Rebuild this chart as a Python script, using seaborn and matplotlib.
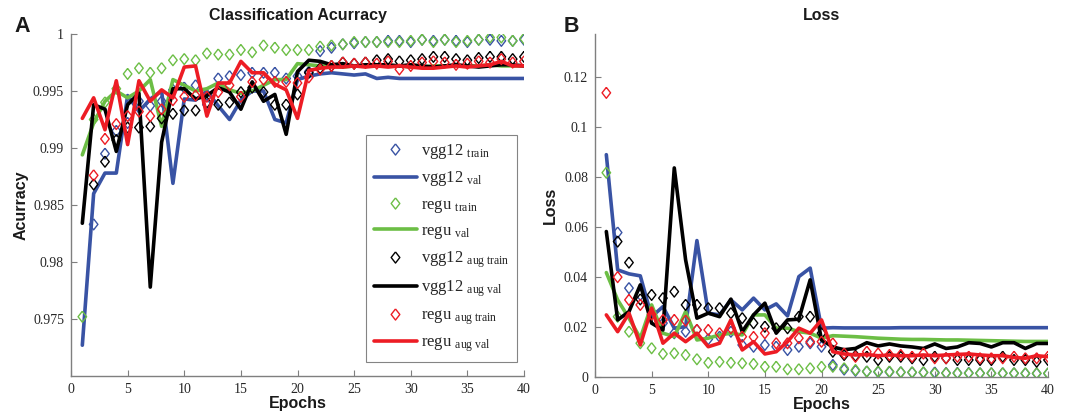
import numpy as np
import pandas as pd
import matplotlib
matplotlib.use("Agg")
import matplotlib.pyplot as plt
from matplotlib.lines import Line2D
from matplotlib.ticker import FuncFormatter
import seaborn as sns

nan = np.nan
epochs = list(range(1, 41))

# ---------------- Accuracy ----------------
vgg_train_acc = [nan, 0.9833, 0.9895, 0.9915, 0.9922, 0.9941, 0.9937, 0.9941, 0.9951, 0.9953,
                 0.9955, 0.9938, 0.9961, 0.9963, 0.9964, 0.9966, 0.9966, 0.9966, 0.9961, 0.9963,
                 0.9967, 0.9985, 0.9988, 0.9991, 0.9992, 0.9993, 0.9993, 0.9994, 0.9994, 0.9993,
                 0.9995, 0.9994, 0.9995, 0.9994, 0.9993, 0.9995, 0.9995, 0.9994, 0.9994, 0.9995]
vgg_val_acc = [0.9727, 0.9860, 0.9878, 0.9878, 0.9946, 0.9932, 0.9943, 0.9950, 0.9869, 0.9943,
               0.9942, 0.9950, 0.9937, 0.9925, 0.9942, 0.9950, 0.9950, 0.9925, 0.9922, 0.9960,
               0.9963, 0.9965, 0.9966, 0.9965, 0.9964, 0.9965, 0.9961, 0.9962, 0.9961, 0.9961,
               0.9961, 0.9961, 0.9961, 0.9961, 0.9961, 0.9961, 0.9961, 0.9961, 0.9961, 0.9961]
regu_train_acc = [0.9752, 0.9925, 0.9940, 0.9952, 0.9965, 0.9970, 0.9966, 0.9970, 0.9977, 0.9978,
                  0.9977, 0.9983, 0.9982, 0.9982, 0.9986, 0.9984, 0.9990, 0.9988, 0.9986, 0.9986,
                  0.9986, 0.9989, 0.9990, 0.9991, 0.9993, 0.9993, 0.9993, 0.9993, 0.9993, 0.9994,
                  0.9995, 0.9993, 0.9995, 0.9993, 0.9994, 0.9995, 0.9997, 0.9997, 0.9994, 0.9996]
regu_val_acc = [0.9894, 0.9922, 0.9941, 0.9950, 0.9944, 0.9950, 0.9960, 0.9919, 0.9960, 0.9955,
                0.9950, 0.9952, 0.9957, 0.9951, 0.9948, 0.9950, 0.9955, 0.9960, 0.9960, 0.9974,
                0.9973, 0.9972, 0.9972, 0.9971, 0.9972, 0.9972, 0.9973, 0.9972, 0.9972, 0.9971,
                0.9971, 0.9972, 0.9972, 0.9972, 0.9972, 0.9972, 0.9973, 0.9972, 0.9972, 0.9972]
vggaug_train_acc = [nan, 0.9868, 0.9888, 0.9907, 0.9918, 0.9918, 0.9919, 0.9926, 0.9930, 0.9933,
                    0.9933, 0.9940, 0.9938, 0.9940, 0.9949, 0.9953, 0.9949, 0.9938, 0.9938, 0.9947,
                    0.9966, 0.9970, 0.9972, 0.9975, 0.9974, 0.9975, 0.9977, 0.9978, 0.9976, 0.9977,
                    0.9978, 0.9980, 0.9980, 0.9978, 0.9977, 0.9979, 0.9980, 0.9980, 0.9978, 0.9980]
vggaug_val_acc = [0.9834, 0.9938, 0.9934, 0.9897, 0.9938, 0.9948, 0.9778, 0.9905, 0.9952, 0.9952,
                  0.9943, 0.9946, 0.9953, 0.9949, 0.9934, 0.9958, 0.9941, 0.9947, 0.9912, 0.9967,
                  0.9977, 0.9976, 0.9973, 0.9974, 0.9972, 0.9973, 0.9973, 0.9973, 0.9972, 0.9973,
                  0.9972, 0.9971, 0.9972, 0.9973, 0.9972, 0.9971, 0.9972, 0.9973, 0.9973, 0.9972]
reguaug_train_acc = [nan, 0.9876, 0.9908, 0.9921, 0.9928, 0.9932, 0.9928, 0.9934, 0.9942, 0.9945,
                     0.9946, 0.9945, 0.9949, 0.9955, 0.9945, 0.9958, 0.9960, 0.9958, 0.9958, 0.9957,
                     0.9962, 0.9969, 0.9972, 0.9975, 0.9974, 0.9975, 0.9974, 0.9976, 0.9969, 0.9972,
                     0.9975, 0.9976, 0.9975, 0.9973, 0.9974, 0.9976, 0.9975, 0.9978, 0.9975, 0.9976]
reguaug_val_acc = [0.9926, 0.9944, 0.9916, 0.9959, 0.9903, 0.9959, 0.9941, 0.9951, 0.9944, 0.9971,
                   0.9972, 0.9928, 0.9957, 0.9957, 0.9976, 0.9966, 0.9966, 0.9956, 0.9951, 0.9926,
                   0.9968, 0.9970, 0.9971, 0.9971, 0.9972, 0.9971, 0.9972, 0.9971, 0.9972, 0.9971,
                   0.9970, 0.9970, 0.9971, 0.9972, 0.9971, 0.9972, 0.9973, 0.9976, 0.9972, 0.9972]

# ---------------- Loss ----------------
vgg_train_loss = [nan, 0.0577, 0.0355, 0.0328, 0.0260, 0.0215, 0.0175, 0.0181, 0.0188, 0.0151,
                  0.0161, 0.0181, 0.0128, 0.0121, 0.0128, 0.0121, 0.0108, 0.0121, 0.0135, 0.0121,
                  0.0048, 0.0030, 0.0025, 0.0022, 0.0020, 0.0020, 0.0019, 0.0018, 0.0018, 0.0018,
                  0.0016, 0.0016, 0.0016, 0.0015, 0.0015, 0.0015, 0.0015, 0.0014, 0.0014, 0.0014]
vgg_val_loss = [0.0888, 0.0428, 0.0412, 0.0404, 0.0241, 0.0281, 0.0195, 0.0201, 0.0545, 0.0255,
                0.0248, 0.0308, 0.0268, 0.0315, 0.0268, 0.0292, 0.0244, 0.0401, 0.0435, 0.0195,
                0.0197, 0.0196, 0.0196, 0.0196, 0.0196, 0.0196, 0.0197, 0.0197, 0.0197, 0.0197,
                0.0197, 0.0197, 0.0197, 0.0197, 0.0197, 0.0197, 0.0197, 0.0197, 0.0197, 0.0197]
regu_train_loss = [0.0816, 0.0241, 0.0181, 0.0135, 0.0115, 0.0092, 0.0095, 0.0088, 0.0071, 0.0057,
                   0.0061, 0.0057, 0.0055, 0.0052, 0.0041, 0.0041, 0.0031, 0.0031, 0.0035, 0.0041,
                   0.0041, 0.0035, 0.0028, 0.0022, 0.0022, 0.0022, 0.0019, 0.0019, 0.0019, 0.0015,
                   0.0015, 0.0015, 0.0015, 0.0015, 0.0015, 0.0015, 0.0015, 0.0015, 0.0015, 0.0015]
regu_val_loss = [0.0417, 0.0308, 0.0235, 0.0155, 0.0288, 0.0175, 0.0161, 0.0261, 0.0148, 0.0155,
                 0.0168, 0.0175, 0.0168, 0.0248, 0.0248, 0.0195, 0.0195, 0.0181, 0.0175, 0.0155,
                 0.0165, 0.0163, 0.0161, 0.0158, 0.0155, 0.0153, 0.0151, 0.0150, 0.0150, 0.0149,
                 0.0148, 0.0148, 0.0147, 0.0146, 0.0145, 0.0144, 0.0143, 0.0142, 0.0142, 0.0142]
vggaug_train_loss = [nan, 0.0541, 0.0457, 0.0310, 0.0328, 0.0315, 0.0341, 0.0288, 0.0288, 0.0275,
                     0.0275, 0.0255, 0.0235, 0.0215, 0.0201, 0.0195, 0.0195, 0.0241, 0.0241, 0.0175,
                     0.0101, 0.0088, 0.0085, 0.0081, 0.0068, 0.0081, 0.0081, 0.0075, 0.0068, 0.0081,
                     0.0075, 0.0068, 0.0068, 0.0068, 0.0068, 0.0081, 0.0068, 0.0068, 0.0061, 0.0068]
vggaug_val_loss = [0.0581, 0.0228, 0.0261, 0.0368, 0.0215, 0.0188, 0.0835, 0.0468, 0.0235, 0.0255,
                   0.0241, 0.0311, 0.0181, 0.0248, 0.0295, 0.0175, 0.0228, 0.0231, 0.0388, 0.0148,
                   0.0120, 0.0109, 0.0114, 0.0137, 0.0124, 0.0132, 0.0124, 0.0120, 0.0114, 0.0132,
                   0.0114, 0.0120, 0.0137, 0.0134, 0.0120, 0.0137, 0.0137, 0.0114, 0.0134, 0.0134]
reguaug_train_loss = [0.1135, 0.0399, 0.0308, 0.0288, 0.0250, 0.0228, 0.0228, 0.0225, 0.0188, 0.0188,
                      0.0175, 0.0195, 0.0161, 0.0160, 0.0175, 0.0135, 0.0135, 0.0155, 0.0141, 0.0141,
                      0.0134, 0.0094, 0.0081, 0.0101, 0.0094, 0.0088, 0.0088, 0.0081, 0.0094, 0.0075,
                      0.0075, 0.0081, 0.0081, 0.0075, 0.0075, 0.0075, 0.0081, 0.0075, 0.0075, 0.0081]
reguaug_val_loss = [0.0248, 0.0181, 0.0255, 0.0128, 0.0275, 0.0135, 0.0175, 0.0141, 0.0175, 0.0121,
                    0.0135, 0.0228, 0.0108, 0.0141, 0.0092, 0.0101, 0.0141, 0.0195, 0.0175, 0.0228,
                    0.0101, 0.0092, 0.0088, 0.0090, 0.0085, 0.0088, 0.0085, 0.0085, 0.0088, 0.0085,
                    0.0088, 0.0090, 0.0092, 0.0088, 0.0085, 0.0085, 0.0078, 0.0075, 0.0085, 0.0081]

model_names = ["vgg12", "regu", "vgg12aug", "reguaug"]
colors = {"vgg12": "#3953A4", "regu": "#6CBE45", "vgg12aug": "#000000", "reguaug": "#ED1C24"}
acc = {"vgg12": (vgg_train_acc, vgg_val_acc), "regu": (regu_train_acc, regu_val_acc),
       "vgg12aug": (vggaug_train_acc, vggaug_val_acc), "reguaug": (reguaug_train_acc, reguaug_val_acc)}
loss = {"vgg12": (vgg_train_loss, vgg_val_loss), "regu": (regu_train_loss, regu_val_loss),
        "vgg12aug": (vggaug_train_loss, vggaug_val_loss), "reguaug": (reguaug_train_loss, reguaug_val_loss)}
legend_labels = [r"vgg12 $_{\mathrm{train}}$", r"vgg12 $_{\mathrm{val}}$",
                 r"regu $_{\mathrm{train}}$", r"regu $_{\mathrm{val}}$",
                 r"vgg12 $_{\mathrm{aug\ train}}$", r"vgg12 $_{\mathrm{aug\ val}}$",
                 r"regu $_{\mathrm{aug\ train}}$", r"regu $_{\mathrm{aug\ val}}$"]

rows = []
for metric, src in (("acc", acc), ("loss", loss)):
    for m in model_names:
        tr, va = src[m]
        for e, t, v in zip(epochs, tr, va):
            rows.append((metric, m, "train", e, t))
            rows.append((metric, m, "val", e, v))
df = pd.DataFrame(rows, columns=["metric", "model", "split", "epoch", "value"])

sns.set_theme(style="white")
plt.rcParams["font.family"] = ["Liberation Serif", "DejaVu Serif"]
plt.rcParams["mathtext.fontset"] = "custom"
plt.rcParams["mathtext.rm"] = "Liberation Serif"
plt.rcParams["mathtext.it"] = "Liberation Serif:italic"

diamond = [(0, 1), (0.78, 0), (0, -1), (-0.78, 0), (0, 1)]
W, H = 1068, 415
fig = plt.figure(figsize=(W / 100, H / 100), dpi=100)
ax1 = fig.add_axes([71 / W, 1 - 376 / H, 453 / W, 342 / H])
ax2 = fig.add_axes([595 / W, 1 - 377 / H, 453 / W, 343 / H])

sans = ["Liberation Sans", "DejaVu Sans"]
spine_c = "#7f7f7f"
lab_c = "#1a1a1a"

for ax, metric in ((ax1, "acc"), (ax2, "loss")):
    for m in model_names:
        d = df[(df.metric == metric) & (df.model == m)]
        dt = d[d.split == "train"].dropna()
        dv = d[d.split == "val"]
        sns.scatterplot(data=dt, x="epoch", y="value", ax=ax, marker=diamond, s=62,
                        color="none", edgecolor=colors[m], linewidth=1.0, legend=False, zorder=3)
        sns.lineplot(data=dv, x="epoch", y="value", ax=ax, color=colors[m], lw=2.6,
                     legend=False, zorder=3)
    ax.set_xlim(0, 40)
    ax.set_xticks(range(0, 41, 5))
    for s in ("top", "right"):
        ax.spines[s].set_visible(False)
    for s in ("left", "bottom"):
        ax.spines[s].set_color(spine_c)
        ax.spines[s].set_linewidth(1.0)
    ax.tick_params(direction="in", length=4, width=0.8, color=spine_c, labelsize=10,
                   labelcolor="#262626", pad=5, left=True, bottom=True)
    ax.yaxis.set_major_formatter(FuncFormatter(lambda v, p: "%g" % round(v, 4)))
    ax.set_xlabel("Epochs", fontsize=11.5, fontweight="bold", family=sans, labelpad=0, color=lab_c)

ax1.set_ylim(0.97, 1.0)
ax1.set_yticks([0.975, 0.98, 0.985, 0.99, 0.995, 1.0])
ax2.set_ylim(0, 0.137)
ax2.set_yticks([0, 0.02, 0.04, 0.06, 0.08, 0.1, 0.12])

ax1.set_ylabel("Acurracy", fontsize=11.5, fontweight="bold", family=sans, labelpad=3, color=lab_c)
ax2.set_ylabel("Loss", fontsize=11.5, fontweight="bold", family=sans, labelpad=4, color=lab_c)
ax1.set_title("Classification Acurracy", fontsize=11.5, fontweight="bold", family=sans, pad=10, color=lab_c)
ax2.set_title("Loss", fontsize=11.5, fontweight="bold", family=sans, pad=10, color=lab_c)

fig.text(14 / W, 1 - 27 / H, "A", fontsize=15.5, fontweight="bold", family=sans, va="center", color=lab_c)
fig.text(564 / W, 1 - 27 / H, "B", fontsize=15.5, fontweight="bold", family=sans, va="center", color=lab_c)

handles = []
for m in model_names:
    handles.append(Line2D([], [], linestyle="none", marker=diamond, markersize=8,
                          markerfacecolor="none", markeredgecolor=colors[m], markeredgewidth=1.0))
    handles.append(Line2D([], [], color=colors[m], lw=2.6))
leg = ax1.legend(handles, legend_labels, loc="lower right", bbox_to_anchor=(0.985, 0.041),
                 fontsize=12, frameon=True, fancybox=False, edgecolor="#666666",
                 handlelength=2.6, handletextpad=0.25, labelspacing=0.5, borderpad=0.45,
                 borderaxespad=0)
leg.get_frame().set_linewidth(0.8)

fig.savefig("out.png", dpi=100, facecolor="white")
